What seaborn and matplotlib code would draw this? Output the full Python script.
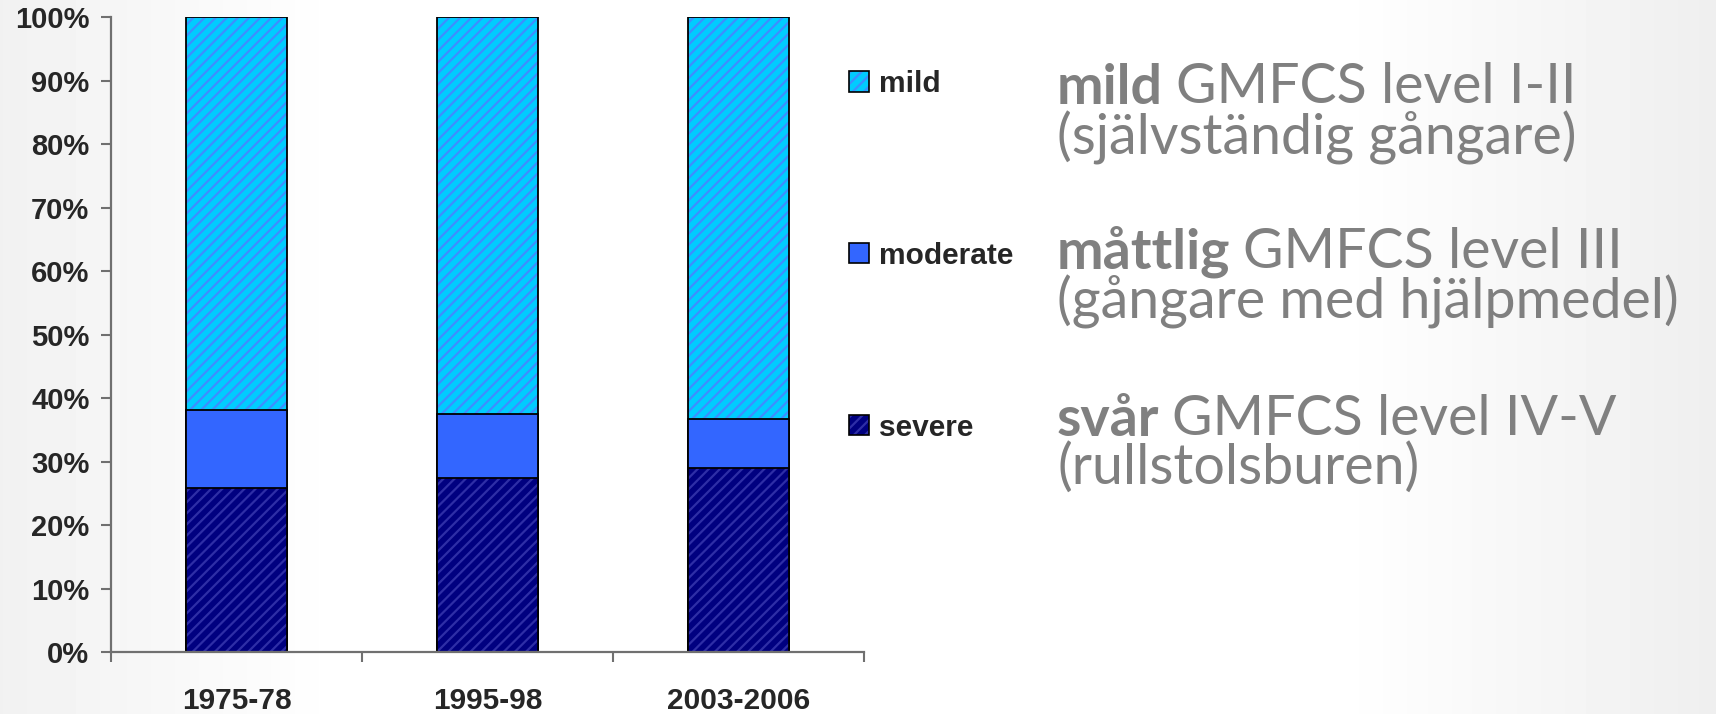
import matplotlib
matplotlib.use("Agg")
import matplotlib.pyplot as plt
import seaborn as sns
import numpy as np
import pandas as pd
from matplotlib.patches import Patch
from matplotlib.legend_handler import HandlerTuple
from matplotlib.ticker import FixedLocator, PercentFormatter

# values (percent of each cohort)
periods = ["1975-78", "1995-98", "2003-2006"]
severe = [25.8, 27.4, 29.0]
moderate = [12.3, 10.1, 7.7]
mild = [61.9, 62.5, 63.3]

legend_labels = ["mild", "moderate", "severe"]

note_bold = ["mild", "måttlig", "svår"]
note_rest = ["GMFCS level I-II", "GMFCS level III", "GMFCS level IV-V"]
note_sub = ["(självständig gångare)", "(gångare med hjälpmedel)", "(rullstolsburen)"]

df = pd.DataFrame({"period": periods, "severe": severe,
                   "moderate": moderate, "mild": mild})
df["sev_mod"] = df["severe"] + df["moderate"]
df["total"] = df["sev_mod"] + df["mild"]

sns.set_style("white")
plt.rcParams["font.family"] = ["Liberation Sans", "DejaVu Sans"]
plt.rcParams["hatch.linewidth"] = 1.6

fig = plt.figure(figsize=(17.16, 7.14), dpi=100)

# faint grey gradient of the slide background
bg = fig.add_axes([0, 0, 1, 1], zorder=-10)
grad = np.interp(np.linspace(0, 1, 500), [0, 0.2, 0.78, 1], [0.945, 1.0, 1.0, 0.935])
bg.imshow(np.tile(grad, (2, 1)), cmap="gray", vmin=0, vmax=1,
          aspect="auto", extent=[0, 1, 0, 1])
bg.axis("off")

ax = fig.add_axes([0.0647, 0.0868, 0.4389, 0.8887])
ax.patch.set_alpha(0)

# stacked bars: draw cumulative totals from the top down
layers = [
    ("total", "#00ccff", "#3d8eff", "///"),
    ("sev_mod", "#3366ff", "#3366ff", ""),
    ("severe", "#000080", "#2e2ea6", "///"),
]
for col, face, hcol, hatch in layers:
    sns.barplot(data=df, x="period", y=col, color=face, saturation=1,
                width=0.4, hatch=hatch, edgecolor=hcol, linewidth=0,
                errorbar=None, ax=ax)
    sns.barplot(data=df, x="period", y=col, color="black", fill=False,
                width=0.4, linewidth=1.3, errorbar=None, ax=ax)

ax.set_xlim(-0.5, 2.5)
ax.set_ylim(0, 100)
ax.set_xlabel("")
ax.set_ylabel("")
ax.yaxis.set_major_locator(FixedLocator(np.arange(0, 101, 10)))
ax.yaxis.set_major_formatter(PercentFormatter(decimals=0))
ax.set_xticks(range(len(periods)))
ax.set_xticklabels(periods)
ax.set_xticks(np.arange(len(periods) + 1) - 0.5, minor=True)

sns.despine(ax=ax)
for s in ["left", "bottom"]:
    ax.spines[s].set_color("#707070")
    ax.spines[s].set_linewidth(1.6)

ax.tick_params(axis="y", left=True, direction="out", length=7.5, width=1.5,
               color="#707070", pad=8, labelsize=21)
ax.tick_params(axis="x", which="major", bottom=True, length=0, pad=25,
               labelsize=21.5)
ax.tick_params(axis="x", which="minor", bottom=True, direction="out",
               length=7.5, width=1.5, color="#707070")
for lab in ax.get_yticklabels() + ax.get_xticklabels():
    lab.set_fontweight("bold")

# legend with separately coloured hatching
handles = []
for _, face, hcol, hatch in layers:
    handles.append((Patch(facecolor=face, edgecolor=hcol, hatch=hatch, linewidth=0),
                    Patch(fill=False, edgecolor="black", linewidth=1.2)))
leg = fig.legend(handles, legend_labels, handler_map={tuple: HandlerTuple(ndivide=1)},
                 loc="upper left", bbox_to_anchor=(0.4948, 0.902), frameon=False,
                 borderpad=0, borderaxespad=0, labelspacing=4.82,
                 handlelength=0.66, handleheight=0.66, handletextpad=0.33,
                 prop={"weight": "bold", "size": 21.5})

# explanation text on the right
grey = "#808080"
note_font = ["Lato", "DejaVu Sans"]
rows = [(0.855, 0.784), (0.624, 0.554), (0.39, 0.322)]
for (y1, y2), b, r, s in zip(rows, note_bold, note_rest, note_sub):
    t = fig.text(0.616, y1, b, fontsize=40, fontweight="bold", color=grey,
                 family=note_font, va="baseline")
    ax.annotate(r, xy=(1, 0), xycoords=t, xytext=(9, 0), textcoords="offset points",
                fontsize=40, color=grey, family=note_font,
                va="bottom", annotation_clip=False)
    fig.text(0.616, y2, s, fontsize=40, color=grey,
             family=note_font, va="baseline")

fig.savefig("out.png", dpi=100)
